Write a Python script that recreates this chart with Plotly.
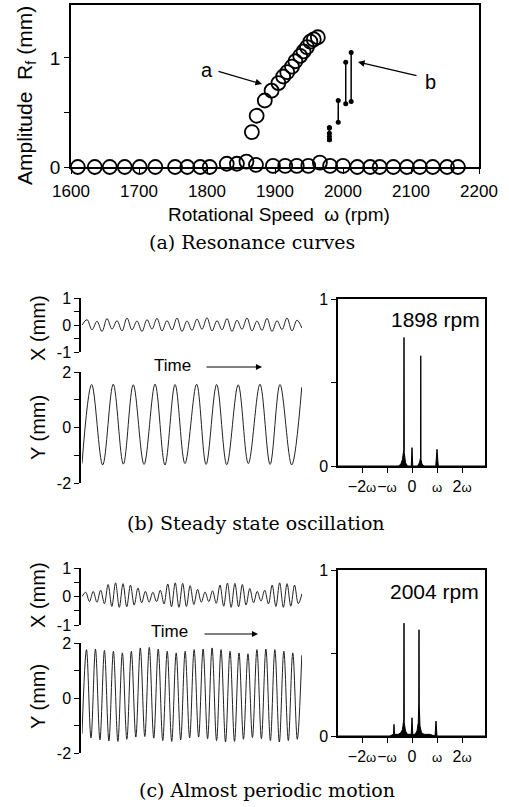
import numpy as np
import plotly.graph_objects as go

W, H = 509, 807

# ---------------- (a) resonance curves ----------------
lower_rpm = [1610, 1635, 1657, 1679, 1701, 1724, 1753, 1771, 1790, 1804, 1829, 1844,
             1858, 1872, 1897, 1915, 1932, 1949, 1966, 1981, 2000, 2021, 2040, 2054,
             2074, 2094, 2113, 2132, 2153, 2169]
lower_amp = [0.0, 0.0, 0.0, 0.0, 0.0, 0.0, 0.0, 0.0, 0.0, 0.0, 0.03, 0.03,
             0.05, 0.02, 0.01, 0.01, 0.01, 0.01, 0.04, 0.01, 0.01, 0.0, 0.0, 0.0,
             0.0, 0.0, 0.0, 0.0, 0.0, 0.0]

upper_rpm = [1866, 1873, 1885, 1895, 1905, 1912, 1918, 1925, 1930, 1937, 1942, 1947,
             1952, 1957, 1963]
upper_amp = [0.32, 0.47, 0.61, 0.70, 0.77, 0.83, 0.87, 0.92, 0.97, 1.02, 1.06, 1.10,
             1.15, 1.17, 1.19]

# branch b: amplitude ranges measured at each speed (min/max)
b_rpm = [1980, 1993, 2004, 2012]
b_min = [0.25, 0.41, 0.58, 0.60]
b_max = [0.36, 0.61, 0.96, 1.05]
b_dots_rpm = [1980, 1980, 1980, 1980]
b_dots_amp = [0.25, 0.28, 0.31, 0.36]

x_ticks_a = [1600, 1700, 1800, 1900, 2000, 2100, 2200]

# ---------------- (b) steady state, 1898 rpm ----------------
# extrema of the time records (time in % of the record length)
Xb_vals = [0.0, 0.20, -0.18, 0.14, -0.24, 0.24, -0.15, 0.16, -0.22, 0.26, -0.18, 0.15,
           -0.24, 0.20, -0.15, 0.25, -0.22, 0.16, -0.18, 0.26, -0.24, 0.15, -0.20,
           0.22, -0.16, 0.27, -0.22, 0.16, -0.18, 0.24, -0.24, 0.18, -0.16, 0.26,
           -0.22, 0.15, -0.20, 0.25, -0.24, 0.16, -0.17, 0.26, -0.22, 0.18, -0.12]
Yb_times = [0.0, 4.4, 9.4, 14.2, 18.8, 23.3, 28.2, 33.2, 37.7, 42.3, 46.8, 52.1,
            56.4, 61.2, 65.8, 71.0, 75.6, 80.9, 85.5, 90.0, 95.3, 99.9]
Yb_vals = [-1.30, 1.55, -1.35, 1.56, -1.32, 1.54, -1.33, 1.56, -1.35, 1.55, -1.30,
           1.56, -1.33, 1.55, -1.34, 1.54, -1.30, 1.56, -1.33, 1.55, -1.35, 1.45]

spec_b_freq = [-2.96, -0.55, -0.45, -0.38, -0.33, -0.32, -0.31, -0.26, -0.18, -0.03,
               0.0, 0.03, 0.22, 0.30, 0.34, 0.35, 0.36, 0.40, 0.48, 0.95, 1.0, 1.05, 2.92]
spec_b_amp = [0.0, 0.0, 0.01, 0.04, 0.10, 0.77, 0.08, 0.02, 0.0, 0.0,
              0.11, 0.0, 0.0, 0.02, 0.05, 0.66, 0.04, 0.01, 0.0, 0.0, 0.10, 0.0, 0.0]

# ---------------- (c) almost periodic, 2004 rpm ----------------
Xc_vals = [0.0, 0.15, -0.18, 0.18, -0.20, 0.22, -0.25, 0.42, -0.35, 0.48, -0.38,
           0.45, -0.36, 0.40, -0.30, 0.30, -0.22, 0.18, -0.20, 0.15, -0.18, 0.22,
           -0.26, 0.44, -0.36, 0.48, -0.38, 0.46, -0.35, 0.38, -0.28, 0.25, -0.20,
           0.16, -0.18, 0.20, -0.24, 0.40, -0.34, 0.47, -0.38, 0.46, -0.36, 0.42,
           -0.30, 0.28, -0.22, 0.18, -0.16, 0.22, -0.26, 0.40, -0.35, 0.48, -0.38,
           0.45, -0.34, 0.40, -0.25, 0.10]
Yc_peaks = [1.76, 1.78, 1.73, 1.70, 1.64, 1.70, 1.82, 1.84, 1.78, 1.70, 1.64, 1.70,
            1.76, 1.78, 1.82, 1.76, 1.70, 1.64, 1.61, 1.76, 1.78, 1.76, 1.70, 1.64, 1.55]
Yc_troughs = [-1.30, -1.45, -1.52, -1.56, -1.58, -1.50, -1.42, -1.40, -1.46, -1.55,
              -1.58, -1.52, -1.45, -1.42, -1.48, -1.55, -1.60, -1.58, -1.50, -1.44,
              -1.48, -1.55, -1.60, -1.55, -1.50]

spec_c_freq = [-2.96, -0.90, -0.74, -0.72, -0.70, -0.55, -0.45, -0.38, -0.33, -0.32,
               -0.31, -0.26, -0.18, -0.03, 0.0, 0.03, 0.12, 0.20, 0.25, 0.27, 0.28,
               0.29, 0.32, 0.38, 0.48, 0.70, 0.92, 0.96, 1.00, 1.20, 2.92]
spec_c_amp = [0.0, 0.0, 0.01, 0.07, 0.01, 0.01, 0.02, 0.04, 0.10, 0.68,
              0.08, 0.03, 0.01, 0.01, 0.11, 0.01, 0.01, 0.03, 0.08, 0.20, 0.64,
              0.18, 0.06, 0.02, 0.01, 0.01, 0.0, 0.09, 0.0, 0.0, 0.0]

spec_ticks = [-2, -1, 0, 1, 2]
OMEGA = "<span style='font-size:13px'>\u03c9</span>"
spec_ticktext = ["\u22122" + OMEGA, "\u2212" + OMEGA, "0", OMEGA, "2" + OMEGA]

SANS = "Liberation Sans, Arial, sans-serif"
SERIF = "DejaVu Serif, serif"


def px_x(p):
    return p / W


def px_y(p):
    return 1 - p / H


fig = go.Figure()

# --- (a) traces
circle = dict(symbol="circle-open", size=14, color="black", line=dict(width=1.8))
fig.add_trace(go.Scatter(x=lower_rpm, y=lower_amp, mode="markers", cliponaxis=False,
                         marker=circle, xaxis="x", yaxis="y", showlegend=False))
fig.add_trace(go.Scatter(x=upper_rpm, y=upper_amp, mode="markers", cliponaxis=False,
                         marker=circle, xaxis="x", yaxis="y", showlegend=False))
seg_x, seg_y = [], []
for r, lo, hi in zip(b_rpm, b_min, b_max):
    seg_x += [r, r, None]
    seg_y += [lo, hi, None]
fig.add_trace(go.Scatter(x=seg_x, y=seg_y, mode="lines+markers",
                         line=dict(color="black", width=1.5),
                         marker=dict(size=5, color="black"),
                         xaxis="x", yaxis="y", showlegend=False))
fig.add_trace(go.Scatter(x=b_dots_rpm, y=b_dots_amp, mode="lines+markers",
                         line=dict(color="black", width=1.5),
                         marker=dict(size=5, color="black"),
                         xaxis="x", yaxis="y", showlegend=False))

# --- time records
wave_line = dict(color="#222", width=1, shape="spline", smoothing=1.0)
t_xb = np.linspace(0, 100, len(Xb_vals))
fig.add_trace(go.Scatter(x=t_xb, y=Xb_vals, mode="lines", line=wave_line,
                         xaxis="x2", yaxis="y2", showlegend=False))
fig.add_trace(go.Scatter(x=Yb_times, y=Yb_vals, mode="lines", line=wave_line,
                         xaxis="x3", yaxis="y3", showlegend=False))

t_xc = np.linspace(0, 100, len(Xc_vals))
fig.add_trace(go.Scatter(x=t_xc, y=Xc_vals, mode="lines", line=wave_line,
                         xaxis="x5", yaxis="y5", showlegend=False))
yc_vals = []
for tr, pk in zip(Yc_troughs, Yc_peaks):
    yc_vals += [tr, pk]
t_yc = np.linspace(0, 99.9, len(yc_vals))
fig.add_trace(go.Scatter(x=t_yc, y=yc_vals, mode="lines", line=wave_line,
                         xaxis="x6", yaxis="y6", showlegend=False))

# --- spectra
spec_line = dict(color="black", width=1)
fig.add_trace(go.Scatter(x=spec_b_freq, y=spec_b_amp, mode="lines", line=spec_line,
                         fill="tozeroy", fillcolor="black",
                         xaxis="x4", yaxis="y4", showlegend=False))
fig.add_trace(go.Scatter(x=spec_c_freq, y=spec_c_amp, mode="lines", line=spec_line,
                         fill="tozeroy", fillcolor="black",
                         xaxis="x7", yaxis="y7", showlegend=False))

axis_common = dict(showline=True, linecolor="black", linewidth=1.5, ticks="outside",
                   ticklen=5, tickcolor="black", tickwidth=1.3, showgrid=False,
                   zeroline=False, fixedrange=True, tickangle=0)

time_dom = [px_x(82), px_x(302)]
time_x = dict(domain=time_dom, range=[0, 100], visible=False, fixedrange=True)

fig.update_layout(
    width=W, height=H,
    margin=dict(l=0, r=0, t=0, b=0, pad=0, autoexpand=False),
    paper_bgcolor="white", plot_bgcolor="rgba(0,0,0,0)",
    font=dict(family=SANS, color="black"),
    xaxis=dict(axis_common, domain=[px_x(71), px_x(479)], range=[1600, 2200],
               tickvals=x_ticks_a, mirror=True, anchor="y", ticklabelstandoff=3,
               tickfont=dict(size=17)),
    yaxis=dict(axis_common, domain=[px_y(167), px_y(5)], range=[0, 1.486],
               tickvals=[0, 0.5, 1], ticktext=["0", "", "1"], mirror=True,
               anchor="x", tickfont=dict(size=19)),
    xaxis2=dict(time_x, anchor="y2"),
    yaxis2=dict(axis_common, domain=[px_y(352), px_y(298)], range=[-1, 1],
                tickvals=[-1, -0.5, 0, 0.5, 1], ticktext=["-1", "", "0", "", "1"],
                anchor="free", position=px_x(80), tickfont=dict(size=16)),
    xaxis3=dict(time_x, anchor="y3"),
    yaxis3=dict(axis_common, domain=[px_y(483), px_y(372)], range=[-2, 2],
                tickvals=[-2, -1, 0, 1, 2], ticktext=["-2", "", "0", "", "2"],
                anchor="free", position=px_x(80), tickfont=dict(size=16)),
    xaxis4=dict(axis_common, domain=[px_x(338), px_x(485)], range=[-2.96, 2.92],
                tickvals=spec_ticks, ticktext=spec_ticktext, mirror=True,
                anchor="y4", tickfont=dict(size=16)),
    yaxis4=dict(axis_common, domain=[px_y(466), px_y(299)], range=[0, 1],
                tickvals=[0, 0.5, 1], ticktext=["0", "", "1"], mirror=True,
                anchor="x4", tickfont=dict(size=16)),
    xaxis5=dict(time_x, anchor="y5"),
    yaxis5=dict(axis_common, domain=[px_y(625), px_y(568)], range=[-1, 1],
                tickvals=[-1, -0.5, 0, 0.5, 1], ticktext=["-1", "", "0", "", "1"],
                anchor="free", position=px_x(80), tickfont=dict(size=16)),
    xaxis6=dict(time_x, anchor="y6"),
    yaxis6=dict(axis_common, domain=[px_y(753), px_y(643)], range=[-2, 2],
                tickvals=[-2, -1, 0, 1, 2], ticktext=["-2", "", "0", "", "2"],
                anchor="free", position=px_x(80), tickfont=dict(size=16)),
    xaxis7=dict(axis_common, domain=[px_x(338), px_x(485)], range=[-2.96, 2.92],
                tickvals=spec_ticks, ticktext=spec_ticktext, mirror=True,
                anchor="y7", tickfont=dict(size=16)),
    yaxis7=dict(axis_common, domain=[px_y(736), px_y(570)], range=[0, 1],
                tickvals=[0, 0.5, 1], ticktext=["0", "", "1"], mirror=True,
                anchor="x7", tickfont=dict(size=16)),
)

ann = []


def text(x, y, s, size, family=SANS, angle=0, xanchor="center"):
    ann.append(dict(x=px_x(x), y=px_y(y), xref="paper", yref="paper", text=s,
                    showarrow=False, textangle=angle, xanchor=xanchor,
                    yanchor="middle", font=dict(size=size, family=family,
                                                color="black")))


def arrow(x0, y0, x1, y1, width=1.2):
    ann.append(dict(x=px_x(x1), y=px_y(y1), xref="paper", yref="paper", text="",
                    showarrow=True, ax=x0 - x1, ay=y0 - y1, axref="pixel",
                    ayref="pixel", arrowhead=2, arrowsize=1.1, arrowwidth=width,
                    arrowcolor="black"))


# axis titles of (a)
text(279, 215, "Rotational Speed  \u03c9 (rpm)", 19)
text(26, 96, "Amplitude  R<sub>f</sub> (mm)", 21, angle=-90)
# branch labels
text(207, 70, "a", 20)
arrow(217, 71, 262, 84)
text(430, 82, "b", 20)
arrow(418, 76, 358, 62)

# time-record titles
text(38, 328, "X (mm)", 20, angle=-90)
text(38, 428, "Y (mm)", 20, angle=-90)
text(38, 595, "X (mm)", 20, angle=-90)
text(38, 697, "Y (mm)", 20, angle=-90)
text(172, 365, "Time", 17)
arrow(205, 367, 262, 367, width=1.1)
text(169, 631, "Time", 17)
arrow(203, 634, 258, 634, width=1.1)

# spectrum labels
text(482, 319, "1898 rpm", 21, xanchor="right")
text(481, 591, "2004 rpm", 21, xanchor="right")

# captions
text(252, 242, "(a) Resonance curves", 19, family=SERIF)
text(256, 523, "(b) Steady state oscillation", 19, family=SERIF)
text(267, 790, "(c) Almost periodic motion", 19, family=SERIF)

fig.update_layout(annotations=ann)

fig.write_html("out.html")
